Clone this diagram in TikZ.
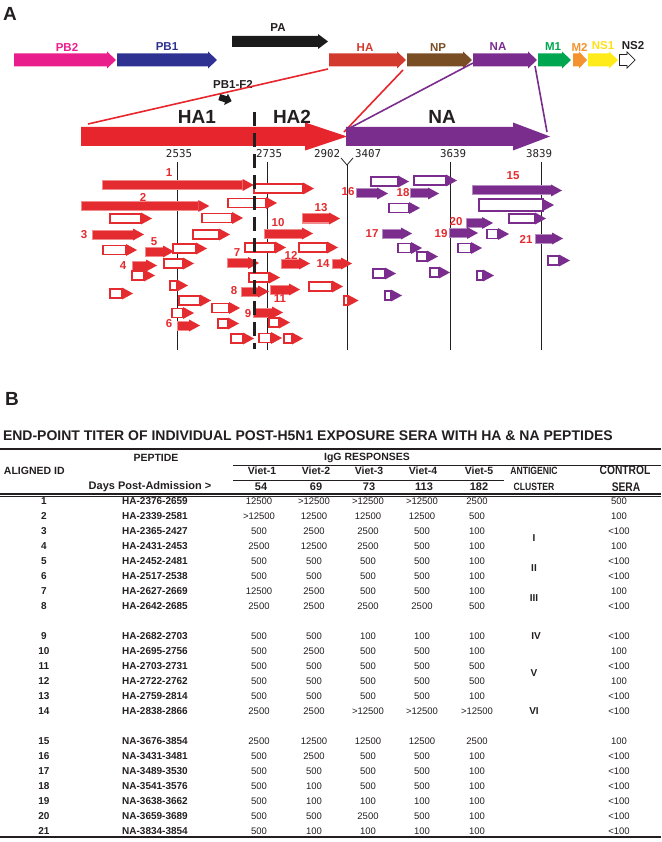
\documentclass[tikz,border=0pt]{standalone}
\usepackage{fontspec}
\setmainfont{Liberation Sans}
\newfontfamily\narrowfont[FakeStretch=0.82]{Liberation Sans}
\newfontfamily\monofont{DejaVu Sans Mono}
\definecolor{cPB2}{HTML}{E91E8C}
\definecolor{cPB1}{HTML}{2E3192}
\definecolor{cPA}{HTML}{1B1B1B}
\definecolor{cHA}{HTML}{D23A2D}
\definecolor{cNP}{HTML}{7A4E25}
\definecolor{cNA}{HTML}{7B2C8F}
\definecolor{cM1}{HTML}{00A650}
\definecolor{cM2}{HTML}{F3922E}
\definecolor{cNS1}{HTML}{FFEB1A}
\definecolor{tblack}{HTML}{231F20}
\definecolor{bigred}{HTML}{E6262C}
\definecolor{pred}{HTML}{E42B2F}
\definecolor{ppur}{HTML}{7A2D8D}
\newcommand\garrow[7]{%
  \path[#7] (#1,#3-#4) -- (#2-#6,#3-#4) -- (#2-#6,#3-#5) -- (#2,#3) -- (#2-#6,#3+#5) -- (#2-#6,#3+#4) -- (#1,#3+#4) -- cycle;}
\newcommand\pep[5]{%
  \path[#4=#5] (#1,#3-4.5) rectangle (#2,#3+4.5);
  \fill[#5] (#2,#3-6) -- (#2+11,#3) -- (#2,#3+6) -- cycle;}
\begin{document}
\begin{tikzpicture}[x=1pt,y=-1pt,
  every node/.style={inner sep=0pt,outer sep=0pt,text=tblack},
  genelab/.style={font=\fontsize{11.5}{12}\selectfont\bfseries},
  bigLab/.style={font=\fontsize{19}{20}\selectfont\bfseries},
  panel/.style={font=\fontsize{19}{20}\selectfont\bfseries},
  posn/.style={font=\fontsize{10.8}{11}\selectfont\monofont},
  plab/.style={font=\fontsize{11.5}{12}\selectfont\bfseries,text=pred},
  pepfill/.style={fill=#1,draw=#1!55!white,line width=1pt},
  pepopen/.style={fill=white,draw=#1,line width=1.1pt},
  link/.style={line width=1.6pt},
  hdr/.style={font=\fontsize{10.5}{11}\selectfont\bfseries},
  hdrn/.style={font=\fontsize{10.5}{11}\selectfont\narrowfont\bfseries},
  hdrbig/.style={font=\fontsize{12.5}{13}\selectfont\narrowfont\bfseries},
  idt/.style={font=\fontsize{10}{11}\selectfont\bfseries},
  valt/.style={font=\fontsize{9.5}{10}\selectfont},
  rule/.style={line width=1.3pt,draw=tblack},
  thin/.style={line width=0.9pt,draw=tblack}]
\useasboundingbox (0,0) rectangle (661,842);

% ---------- panel A ----------
\node[panel] (pA) at (10,14) {A};

% genome segments
\garrow{14}{116}{60}{6.5}{8.5}{9}{fill=cPB2}
\garrow{117}{217}{60}{6.5}{8.5}{9}{fill=cPB1}
\garrow{232}{328}{41.5}{5.5}{7.5}{10}{fill=cPA}
\garrow{329}{406}{60}{6.5}{8.5}{9}{fill=cHA}
\garrow{407}{472}{60}{6.5}{8.5}{9}{fill=cNP}
\garrow{473}{537}{60}{6.5}{8.5}{9}{fill=cNA}
\garrow{538}{571}{60}{6.5}{8.5}{9}{fill=cM1}
\garrow{573}{587}{60}{6.5}{8.5}{8}{fill=cM2}
\garrow{588}{618}{60}{6.5}{8.5}{9}{fill=cNS1}
\garrow{619.5}{635}{60}{5.5}{8}{8}{fill=white,draw=tblack,line width=0.7pt}

\node[genelab,text=cPB2] (lPB2) at (67,47) {PB2};
\node[genelab,text=cPB1] (lPB1) at (167,47) {PB1};
\node[genelab] (lPA) at (278,28) {PA};
\node[genelab,text=cHA] (lHA) at (365,48) {HA};
\node[genelab,text=cNP] (lNP) at (438,48) {NP};
\node[genelab,text=cNA] (lNA) at (498,47) {NA};
\node[genelab,text=cM1] (lM1) at (553,47) {M1};
\node[genelab,text=cM2] (lM2) at (579.5,47) {M2};
\node[genelab,text=cNS1!90!orange] (lNS1) at (603,46) {NS1};
\node[genelab] (lNS2) at (633,46) {NS2};
\node[genelab] (lPBF) at (233,84) {PB1-F2};

% connector lines
\coordinate (haL) at (328,69);
\coordinate (haR) at (403,70);
\coordinate (naL) at (473,63);
\coordinate (naR) at (535,66);
\coordinate (bigL) at (88,124);
\coordinate (bigJa) at (344,132);
\coordinate (bigJb) at (346,130);
\coordinate (bigT) at (547,132);
\draw[link,draw=bigred] (haL) -- (bigL);
\draw[link,draw=bigred] (haR) -- (bigJa);
\draw[link,draw=ppur] (naL) -- (bigJb);
\draw[link,draw=ppur] (naR) -- (bigT);

% PB1-F2 small arrow
\begin{scope}[rotate around={-18:(225,99)}]
\garrow{219}{232}{99}{3.2}{6}{6}{fill=cPA}
\end{scope}

% big HA / NA arrows
\garrow{81}{347}{136.5}{9.5}{14}{42}{fill=bigred}
\garrow{346}{550}{136.5}{9.5}{14}{37}{fill=ppur}
\node[bigLab] (tHA1) at (197,117) {HA1};
\node[bigLab] (tHA2) at (292,117) {HA2};
\node[bigLab] (tNA) at (442,117) {NA};

% positions
\node[posn] (n2535) at (179,154) {2535};
\node[posn] (n2735) at (269,154) {2735};
\node[posn] (n2902) at (327,154) {2902};
\node[posn] (n3407) at (368,154) {3407};
\node[posn] (n3639) at (453,154) {3639};
\node[posn] (n3839) at (539,154) {3839};

\coordinate (ya) at (341,158);
\coordinate (yb) at (353,158);
\coordinate (yc) at (347,165);
\draw[line width=0.8pt,tblack] (ya) -- (yc) -- (yb);
\draw[line width=0.8pt,tblack] (yc) -- (347,350);
\draw[line width=0.8pt,tblack] (177,162) -- (177,350);
\draw[line width=0.8pt,tblack] (267,162) -- (267,350);
\draw[line width=0.8pt,tblack] (450,162) -- (450,350);
\draw[line width=0.8pt,tblack] (541,162) -- (541,350);

% HA peptides
\pep{102.7}{242.7}{185}{pepfill}{pred}
\pep{254}{303}{188.5}{pepopen}{pred}
\pep{81.7}{198.3}{206}{pepfill}{pred}
\pep{228}{266}{203}{pepopen}{pred}
\pep{110}{141}{218.5}{pepopen}{pred}
\pep{202}{232}{218}{pepopen}{pred}
\pep{302}{329}{218.5}{pepfill}{pred}
\pep{92}{133}{234.5}{pepfill}{pred}
\pep{193}{219}{234.5}{pepopen}{pred}
\pep{264}{302}{233.5}{pepfill}{pred}
\pep{103}{126}{250}{pepopen}{pred}
\pep{145}{163}{251.5}{pepfill}{pred}
\pep{173}{196}{248.5}{pepopen}{pred}
\pep{245}{275}{247.5}{pepopen}{pred}
\pep{299}{327}{247.5}{pepopen}{pred}
\pep{132}{146}{265.5}{pepfill}{pred}
\pep{164}{183}{263.5}{pepopen}{pred}
\pep{227}{248}{263}{pepfill}{pred}
\pep{281}{299}{263.5}{pepfill}{pred}
\pep{332}{341}{263.5}{pepfill}{pred}
\pep{132}{144}{275.5}{pepopen}{pred}
\pep{249}{269}{277.5}{pepopen}{pred}
\pep{170}{177}{285.5}{pepopen}{pred}
\pep{309}{332}{286.5}{pepopen}{pred}
\pep{110}{122}{293.5}{pepopen}{pred}
\pep{241}{258}{291.5}{pepfill}{pred}
\pep{270}{289}{289.5}{pepfill}{pred}
\pep{179}{200}{300.5}{pepopen}{pred}
\pep{344}{347.5}{300.5}{pepopen}{pred}
\pep{212}{229}{308}{pepopen}{pred}
\pep{172}{183}{313}{pepopen}{pred}
\pep{253}{272}{312.5}{pepfill}{pred}
\pep{177}{189}{325.5}{pepfill}{pred}
\pep{218}{228}{323.5}{pepopen}{pred}
\pep{269}{279}{322.5}{pepopen}{pred}
\pep{231}{243}{338.5}{pepopen}{pred}
\pep{259}{271}{338}{pepopen}{pred}
\pep{284}{292}{338.5}{pepopen}{pred}

% NA peptides
\pep{371}{398}{181.5}{pepopen}{ppur}
\pep{414}{446}{180.5}{pepopen}{ppur}
\pep{356}{377}{193.5}{pepfill}{ppur}
\pep{410}{428}{193.5}{pepfill}{ppur}
\pep{472}{551}{190.5}{pepfill}{ppur}
\pep{389}{409}{208}{pepopen}{ppur}
\path[pepopen=ppur] (479,199) rectangle (543,211);
\fill[ppur] (543,199) -- (554,205) -- (543,211) -- cycle;
\pep{509}{535}{218.5}{pepopen}{ppur}
\pep{466}{482}{223}{pepfill}{ppur}
\pep{382}{401}{233.5}{pepfill}{ppur}
\pep{449}{467}{233}{pepfill}{ppur}
\pep{487}{498}{234}{pepopen}{ppur}
\pep{535}{552}{238.5}{pepfill}{ppur}
\pep{398}{411}{248}{pepopen}{ppur}
\pep{458}{471}{248}{pepopen}{ppur}
\pep{417}{427}{256.5}{pepopen}{ppur}
\pep{548}{559}{260.5}{pepopen}{ppur}
\pep{373}{385}{273.5}{pepopen}{ppur}
\pep{430}{439}{272.5}{pepopen}{ppur}
\pep{477}{483}{275.5}{pepopen}{ppur}
\pep{385}{391}{295.5}{pepopen}{ppur}

% peptide labels
\node[plab] (p1) at (169,173) {1};
\node[plab] (p2) at (143,197) {2};
\node[plab] (p3) at (84,235) {3};
\node[plab] (p4) at (123,266) {4};
\node[plab] (p5) at (154,242) {5};
\node[plab] (p6) at (169,324) {6};
\node[plab] (p7) at (237,253) {7};
\node[plab] (p8) at (234,291) {8};
\node[plab] (p9) at (248,314) {9};
\node[plab] (p10) at (278,223) {10};
\node[plab] (p11) at (280,299) {11};
\node[plab] (p12) at (291,255) {12};
\node[plab] (p13) at (321,208) {13};
\node[plab] (p14) at (323,264) {14};
\node[plab] (p15) at (513,176) {15};
\node[plab] (p16) at (348,192) {16};
\node[plab] (p17) at (372,234) {17};
\node[plab] (p18) at (403,193) {18};
\node[plab] (p19) at (441,234) {19};
\node[plab] (p20) at (456,222) {20};
\node[plab] (p21) at (526,239) {21};

% dashed HA1/HA2 boundary
\draw[line width=3pt,tblack,dash pattern=on 14pt off 7pt] (254,112) -- (254,349);

% ---------- panel B ----------
\node[panel] (pB) at (12,399) {B};
\node[font=\fontsize{14}{15}\selectfont\bfseries,anchor=west] (title) at (3,436) {END-POINT TITER OF INDIVIDUAL POST-H5N1 EXPOSURE SERA WITH HA \& NA PEPTIDES};

\draw[rule] (0,449) -- (661,449);
\draw[thin] (233,465) -- (661,465);
\draw[thin] (233,480) -- (504,480);
\draw[rule] (0,494) -- (661,494);
\draw[line width=0.6pt,tblack] (0,496.5) -- (661,496.5);
\draw[rule] (0,837) -- (661,837);

\node[hdr] (hPep) at (156,458) {PEPTIDE};
\node[hdr] (hIgG) at (367,458) {IgG RESPONSES};
\node[hdr,anchor=west] (hAl) at (4,471) {ALIGNED ID};
\node[hdr] (hV1) at (262,471) {Viet-1};
\node[hdr] (hV2) at (316,471) {Viet-2};
\node[hdr] (hV3) at (369,471) {Viet-3};
\node[hdr] (hV4) at (423,471) {Viet-4};
\node[hdr] (hV5) at (479,471) {Viet-5};
\node[hdrn] (hAnt) at (534,471) {ANTIGENIC};
\node[hdrbig] (hCon) at (625,470.5) {CONTROL};
\node[font=\fontsize{11}{12}\selectfont\bfseries] (hDays) at (150,487) {Days Post-Admission >};
\node[font=\fontsize{11}{12}\selectfont\bfseries] (d1) at (261,487) {54};
\node[font=\fontsize{11}{12}\selectfont\bfseries] (d2) at (316,487) {69};
\node[font=\fontsize{11}{12}\selectfont\bfseries] (d3) at (369,487) {73};
\node[font=\fontsize{11}{12}\selectfont\bfseries] (d4) at (424,487) {113};
\node[font=\fontsize{11}{12}\selectfont\bfseries] (d5) at (479,487) {182};
\node[hdrn] (hClu) at (534,487) {CLUSTER};
\node[hdrbig] (hSera) at (626,487) {SERA};

\foreach \n/\pp/\a/\b/\c/\d/\e/\f/\yy in {
 1/HA-2376-2659/12500/>12500/>12500/>12500/2500/500/501,
 2/HA-2339-2581/>12500/12500/12500/12500/500/100/516,
 3/HA-2365-2427/500/2500/2500/500/100/<100/531,
 4/HA-2431-2453/2500/12500/2500/500/100/100/546,
 5/HA-2452-2481/500/500/500/500/100/<100/561,
 6/HA-2517-2538/500/500/500/500/100/<100/576,
 7/HA-2627-2669/12500/2500/500/500/100/100/591,
 8/HA-2642-2685/2500/2500/2500/2500/500/<100/606,
 9/HA-2682-2703/500/500/100/100/100/<100/636,
 10/HA-2695-2756/500/2500/500/500/100/100/651,
 11/HA-2703-2731/500/500/500/500/500/<100/666,
 12/HA-2722-2762/500/500/500/500/500/100/681,
 13/HA-2759-2814/500/500/500/500/100/<100/696,
 14/HA-2838-2866/2500/2500/>12500/>12500/>12500/<100/711,
 15/NA-3676-3854/2500/12500/12500/12500/2500/100/741,
 16/NA-3431-3481/500/2500/500/500/100/<100/756,
 17/NA-3489-3530/500/500/500/500/100/<100/771,
 18/NA-3541-3576/500/100/500/500/100/<100/786,
 19/NA-3638-3662/500/100/100/100/100/<100/801,
 20/NA-3659-3689/500/500/2500/500/100/<100/816,
 21/NA-3834-3854/500/100/100/100/100/<100/831}{
  \node[idt] (id\n) at (44,\yy) {\n};
  \node[idt] (pp\n) at (155,\yy) {\pp};
  \node[valt] (va\n) at (259,\yy) {\a};
  \node[valt] (vb\n) at (314,\yy) {\b};
  \node[valt] (vc\n) at (368,\yy) {\c};
  \node[valt] (vd\n) at (422,\yy) {\d};
  \node[valt] (ve\n) at (477,\yy) {\e};
  \node[valt] (vf\n) at (619,\yy) {\f};
}

\node[idt] (cI) at (534,538.5) {I};
\node[idt] (cII) at (534,568.5) {II};
\node[idt] (cIII) at (534,598.5) {III};
\node[idt] (cIV) at (536,636) {IV};
\node[idt] (cV) at (534,673.5) {V};
\node[idt] (cVI) at (534,711) {VI};
\end{tikzpicture}
\end{document}
